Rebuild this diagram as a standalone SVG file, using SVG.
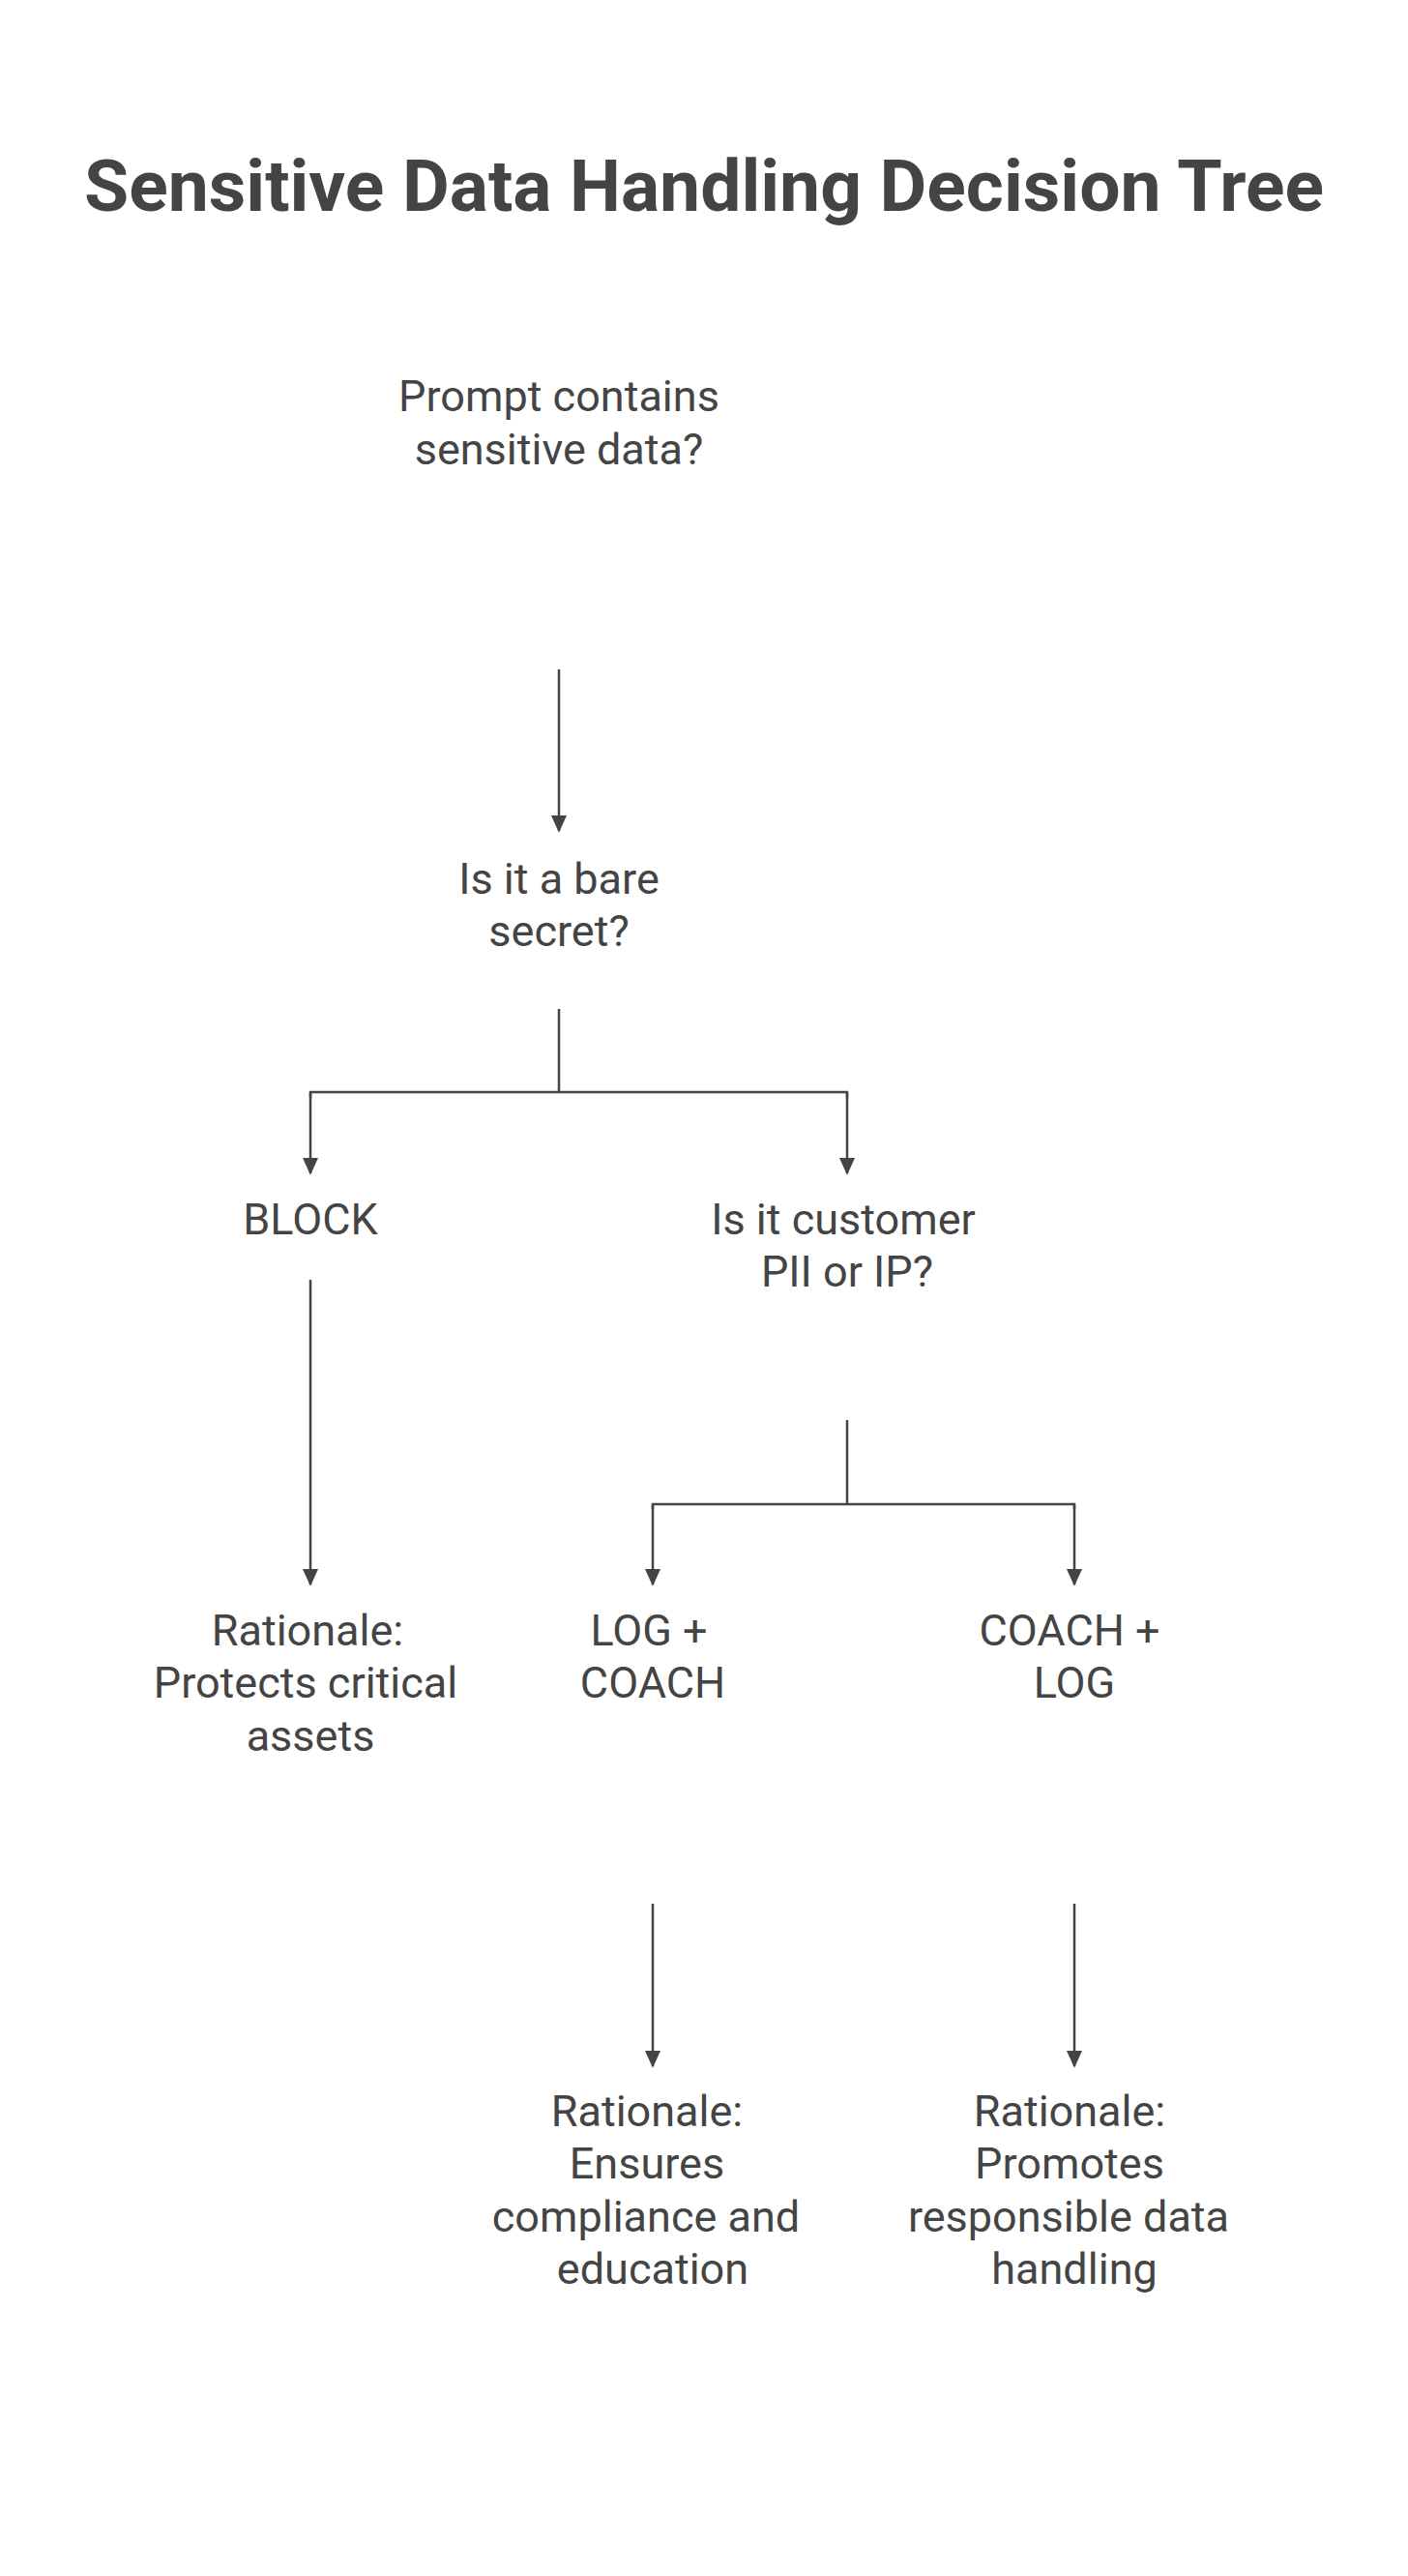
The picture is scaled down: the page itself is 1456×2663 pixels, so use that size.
<svg xmlns="http://www.w3.org/2000/svg" width="1456" height="2663" viewBox="0 0 1456 2663">
<style>
text{font-family:Roboto,"Liberation Sans",sans-serif;fill:#444;text-anchor:middle}
.t{font-size:75px;font-weight:bold}
.n{font-size:45px}
.c{stroke:#444;stroke-width:2.5;fill:none}
</style>
<defs><marker id="ah" viewBox="0 0 10 10" refX="9" refY="5" markerWidth="18" markerHeight="18" markerUnits="userSpaceOnUse" orient="auto"><path d="M0,0.5L10,5L0,9.5z" fill="#444"/></marker></defs>
<rect width="1456" height="2663" fill="#fff"/>
<text class="t" x="728" y="218">Sensitive Data Handling Decision Tree</text>
<g id="n1"><text class="n" x="578" y="425">Prompt contains</text><text class="n" x="578" y="480">sensitive data?</text></g>
<g id="n2"><text class="n" x="578" y="924">Is it a bare</text><text class="n" x="578" y="978">secret?</text></g>
<g id="n3"><text class="n" x="321" y="1276">BLOCK</text></g>
<g id="n4"><text class="n" x="872" y="1276">Is it customer</text><text class="n" x="876" y="1330">PII or IP?</text></g>
<g id="n5"><text class="n" x="318" y="1701">Rationale:</text><text class="n" x="316" y="1755">Protects critical</text><text class="n" x="321" y="1810">assets</text></g>
<g id="n6"><text class="n" x="671" y="1701">LOG +</text><text class="n" x="675" y="1755">COACH</text></g>
<g id="n7"><text class="n" x="1106" y="1701">COACH +</text><text class="n" x="1111" y="1755">LOG</text></g>
<g id="n8"><text class="n" x="669" y="2198">Rationale:</text><text class="n" x="669" y="2252">Ensures</text><text class="n" x="668" y="2307">compliance and</text><text class="n" x="675" y="2361">education</text></g>
<g id="n9"><text class="n" x="1106" y="2198">Rationale:</text><text class="n" x="1106" y="2252">Promotes</text><text class="n" x="1105" y="2307">responsible data</text><text class="n" x="1111" y="2361">handling</text></g>
<g id="connectors">
<path class="c" d="M578,692V859" marker-end="url(#ah)"/>
<path class="c" d="M578,1043V1129M321,1135V1129H876V1135"/>
<path class="c" d="M321,1130V1213" marker-end="url(#ah)"/>
<path class="c" d="M876,1130V1213" marker-end="url(#ah)"/>
<path class="c" d="M321,1323V1638" marker-end="url(#ah)"/>
<path class="c" d="M876,1468V1555M675,1560V1555H1111V1560"/>
<path class="c" d="M675,1556V1638" marker-end="url(#ah)"/>
<path class="c" d="M1111,1556V1638" marker-end="url(#ah)"/>
<path class="c" d="M675,1968V2136" marker-end="url(#ah)"/>
<path class="c" d="M1111,1968V2136" marker-end="url(#ah)"/>
</g>
</svg>
